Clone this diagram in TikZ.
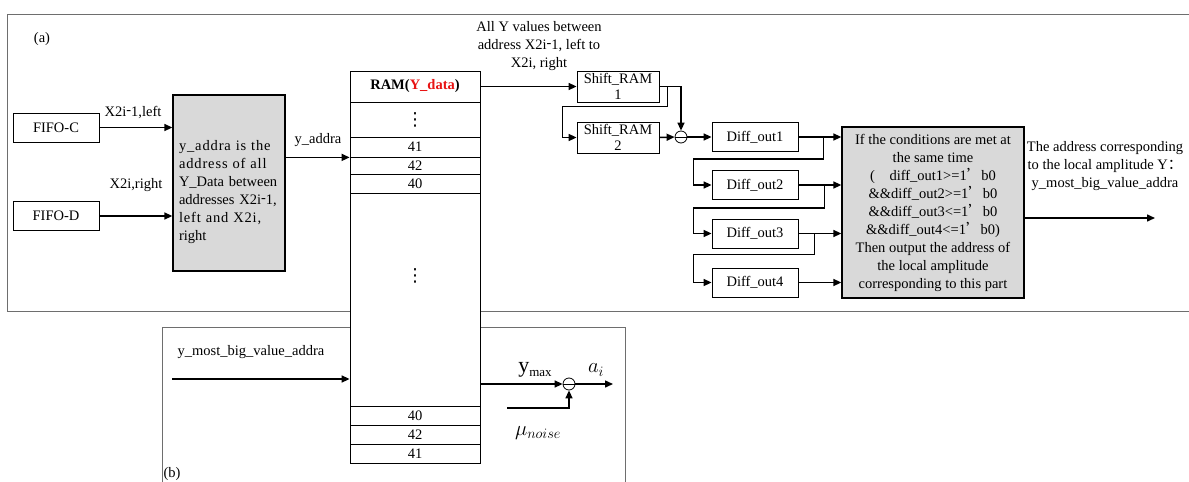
\documentclass[tikz,border=0pt]{standalone}
\usepackage{fontspec}
\setmainfont{Liberation Serif}
\newfontfamily\cjk{Noto Sans CJK SC}
\newfontfamily\dejav{DejaVu Sans}
\usetikzlibrary{arrows.meta, calc}
\definecolor{BoxGr}{RGB}{217,217,217}
\definecolor{FrmGr}{RGB}{110,110,110}
\definecolor{YRed}{RGB}{232,20,20}
\newcommand{\hmin}{\raisebox{0.35ex}{-}}
\newcommand{\fq}{{\cjk ’}}
\newcommand{\vdt}{{\dejav\fontsize{18}{18}\selectfont ⋮}}
\newcommand{\jline}[1]{\makebox[100pt][s]{\addfontfeature{LetterSpace=6}#1}}

\begin{document}
\begin{tikzpicture}[x=1pt, y=-1pt,
  font=\fontsize{14.5}{18}\selectfont,
  blk/.style={draw, line width=0.8pt, inner sep=0pt, minimum width=86pt, minimum height=29pt},
  gblk/.style={draw, line width=1.3pt, fill=BoxGr, inner sep=0pt},
  cell/.style={draw, line width=0.8pt, fill=white, minimum width=130pt, inner sep=0pt},
  arr/.style={line width=1.5pt, -{Triangle[length=8pt,width=7pt]}},
  frm/.style={draw=FrmGr, line width=0.8pt},
  subc/.style={draw, circle, line width=0.8pt, minimum size=12pt, inner sep=0pt,
               path picture={\draw[line width=0.8pt] (path picture bounding box.west) -- (path picture bounding box.east);}},
  lbl/.style={align=center, inner sep=0pt}
]
\useasboundingbox (0,0) rectangle (1189,482);

\draw[frm] (1189,14) -- (7,14) -- (7,311) -- (1189,311);
\draw[frm] (162,500) -- (162,327) -- (625,327) -- (625,500);
\node[lbl] (tagA) at (42,39) {(a)};
\node[lbl] (tagB) at (172,474) {(b)};

\node[blk] (fifoC) at (56,127.5) {FIFO-C};
\node[blk] (fifoD) at (56,216) {FIFO-D};
\node[gblk, minimum width=112pt, minimum height=176pt] (addrbox) at (229,183) {};
\node[align=left, text width=100pt, inner sep=0pt] (addrtxt) at (229,192)
  {\jline{y\_addra is the}\\\jline{address of all}\\Y\_Data between\\\makebox[100pt][s]{addresses X2i\hmin1,}\\\jline{left and X2i,}\\right};
\node[lbl] (lblC) at (133,113) {X2i\hmin1,left};
\node[lbl] (lblD) at (136,185) {X2i,right};
\node[lbl] (lblY) at (318,140) {y\_addra};

\node[cell, minimum height=31pt]  (ramhead) at (415,86.5)  {\bfseries RAM(\textcolor{YRed}{Y\_data})};
\node[cell, minimum height=35pt]  (ramdots) at (415,119.5) {\vdt};
\node[cell, minimum height=20pt]  (r41)     at (415,147)   {41};
\node[cell, minimum height=17pt]  (r42)     at (415,165.5) {42};
\node[cell, minimum height=19pt]  (r40)     at (415,183.5) {40};
\node[cell, minimum height=213pt] (ramgap)  at (415,299.5) {};
\node[lbl] (gapdots) at (415,276) {\vdt};
\node[cell, minimum height=19pt]  (s40)     at (415,415.5) {40};
\node[cell, minimum height=19pt]  (s42)     at (415,434.5) {42};
\node[cell, minimum height=19pt]  (s41)     at (415,453.5) {41};

\node[lbl] (lblAll) at (539,46) {All Y values between\\address X2i\hmin1, left to\\X2i, right};
\node[blk, minimum width=82pt, minimum height=31pt, align=center, font=\fontsize{14.5}{16}\selectfont] (sh1) at (618,86.5) {Shift\_RAM\\1};
\node[blk, minimum width=82pt, minimum height=31pt, align=center, font=\fontsize{14.5}{16}\selectfont] (sh2) at (618,137.5) {Shift\_RAM\\2};
\node[subc] (dif) at (681,137) {};

\node[blk] (d1) at (755,137)   {Diff\_out1};
\node[blk] (d2) at (755,185)   {Diff\_out2};
\node[blk] (d3) at (755,233.5) {Diff\_out3};
\node[blk] (d4) at (755,282.5) {Diff\_out4};
\node[gblk, minimum width=182pt, minimum height=171pt, align=center] (cond) at (933,212.5)
  {If the conditions are met at\\the same time\\(\quad diff\_out1>=1\fq b0\\\&\&diff\_out2>=1\fq b0\\\&\&diff\_out3<=1\fq b0\\\&\&diff\_out4<=1\fq b0)\\Then output the address of\\the local amplitude\\corresponding to this part};
\node[lbl] (lblOut) at (1105,166) {The address corresponding\\to the local amplitude Y{\cjk ：}\\y\_most\_big\_value\_addra};
\coordinate (outy) at (1155,218);

\draw[arr] (fifoC.east) -- (fifoC.east -| addrbox.west);
\draw[arr] (fifoD.east) -- (fifoD.east -| addrbox.west);
\draw[arr] (addrbox.east |- r41.south) -- (r41.south west);
\draw[arr] (ramhead.east) -- (sh1.west);
\draw[arr] (sh1.east) -| (dif.north);
\draw[arr] (sh1.east) ++(8,0) |- ++(-105,20) |- (sh2.west);
\draw[arr] (sh2.east) -- (dif.west);
\draw[arr] (dif.east) -- (d1.west);
\foreach \d in {d1,d2,d3,d4}
  \draw[arr] (\d.east) -- (\d.east -| cond.west);
\foreach \a/\b/\dx/\dy in {d1/d2/25/22, d2/d3/26/23, d3/d4/16/21}
  \draw[arr] (\a.east) ++(\dx,0) |- ++(-\dx-105,\dy) |- (\b.west);
\draw[arr] (outy -| cond.east) -- (outy);

\node[lbl] (lblMost) at (251,352) {y\_most\_big\_value\_addra};
\coordinate (ymsrc) at (172,379);
\draw[arr] (ymsrc) -- (ymsrc -| ramgap.west);
\node[subc] (sub) at (569,384) {};
\node[lbl] (lblMax) at (535,370) {{\fontsize{22}{22}\selectfont y}\raisebox{-4pt}{\fontsize{13}{13}\selectfont max}};
\node[lbl] (lblAi) at (596,370) {\fontsize{20}{20}\selectfont $a_{i}$};
\node[lbl] (lblMu) at (538,433) {\fontsize{22}{22}\selectfont $\mu_{noise}$};
\coordinate (nsrc) at (507,408);
\coordinate (aout) at (613,384);
\draw[arr] (sub -| ramgap.east) -- (sub.west);
\draw[arr] (nsrc) -| (sub.south);
\draw[arr] (sub.east) -- (aout);
\end{tikzpicture}
\end{document}
